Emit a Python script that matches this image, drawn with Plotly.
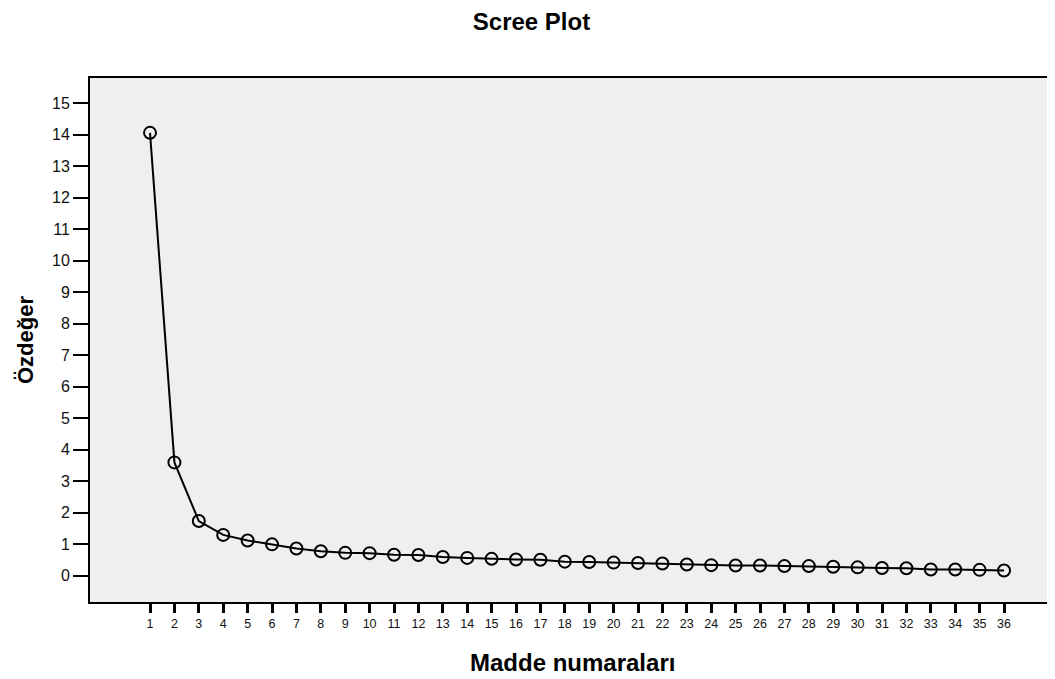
import plotly.graph_objects as go

components = list(range(1, 37))
eigenvalues = [14.06, 3.60, 1.74, 1.30, 1.12, 1.00, 0.87, 0.78, 0.73, 0.72,
               0.67, 0.66, 0.60, 0.57, 0.54, 0.52, 0.51, 0.45, 0.44, 0.42,
               0.41, 0.39, 0.36, 0.34, 0.33, 0.33, 0.31, 0.31, 0.29, 0.27,
               0.25, 0.24, 0.20, 0.20, 0.19, 0.17]
y_ticks = list(range(0, 16))

FONT = "Arial, Liberation Sans, sans-serif"

# The page body has an 8px margin, so the figure is sized to fill the rest of the window.
fig = go.Figure()
fig.add_trace(go.Scatter(
    x=components, y=eigenvalues, mode="lines+markers",
    line=dict(color="black", width=2),
    marker=dict(symbol="circle-open", size=12, color="black", line=dict(width=2, color="black")),
    showlegend=False, hoverinfo="x+y",
))

fig.update_layout(
    width=1047, height=671,
    margin=dict(l=82, r=0, t=70, b=77),
    paper_bgcolor="white",
    plot_bgcolor="#efefef",
    font=dict(family=FONT, color="#111"),
    title=dict(text="<b>Scree Plot</b>", x=0.5, xref="container", xanchor="center",
               y=1 - 14 / 671, yref="container", yanchor="middle",
               font=dict(size=24, color="black", family=FONT)),
    annotations=[
        dict(text="<b>Madde numaraları</b>", xref="paper", yref="paper", x=0.5, y=0,
             yshift=-60, xanchor="center", yanchor="middle", showarrow=False,
             font=dict(size=24, color="black", family=FONT)),
        dict(text="<b>Özdeğer</b>", xref="paper", yref="paper", x=0, y=0.5,
             xshift=-65, xanchor="center", yanchor="middle", showarrow=False, textangle=-90,
             font=dict(size=22, color="black", family=FONT)),
    ],
)

fig.update_xaxes(
    range=[-1.46, 38.09], tickmode="array", tickvals=components,
    ticktext=[str(c) for c in components],
    ticks="outside", ticklen=9, tickwidth=3, tickcolor="black",
    tickfont=dict(size=12.5, color="#111", family=FONT),
    showgrid=False, zeroline=False,
    showline=True, linecolor="black", linewidth=2, mirror=True,
)
fig.update_yaxes(
    range=[-0.83, 15.8], tickmode="array", tickvals=y_ticks,
    ticks="outside", ticklen=15, tickwidth=2, tickcolor="black",
    tickfont=dict(size=16, color="#111", family=FONT),
    showgrid=False, zeroline=False,
    showline=True, linecolor="black", linewidth=2,
)

fig.write_html("out.html")
